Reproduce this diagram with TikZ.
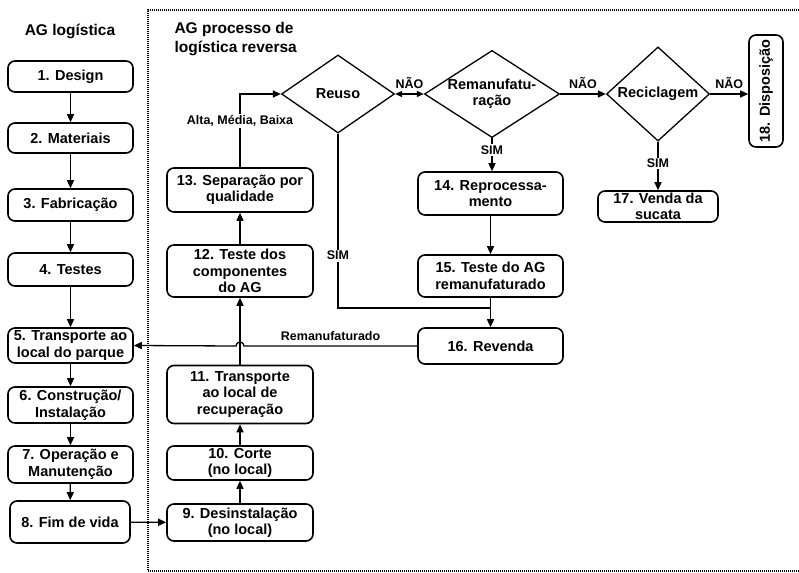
\documentclass[tikz,border=0pt]{standalone}
\usepackage{fontspec}
\setmainfont{Liberation Sans}
\usetikzlibrary{arrows.meta,shapes.geometric}

\newcommand{\boxfont}{\fontsize{14.5}{16.5}\selectfont\bfseries}
\newcommand{\lblfont}{\fontsize{12.5}{14}\selectfont\bfseries}
\newcommand{\ttlfont}{\fontsize{15.5}{19}\selectfont\bfseries}

\tikzset{
  box/.style={draw, line width=1.6pt, rounded corners=7pt, align=center, inner sep=0pt, font=\boxfont},
  dec/.style={draw, shape=diamond, line width=1.3pt, align=center, inner sep=0pt, font=\boxfont},
  arr/.style={line width=1.3pt, -{Triangle[length=8pt,width=7pt]}},
  twoarr/.style={line width=1.3pt, {Triangle[length=7pt,width=6pt]}-{Triangle[length=7pt,width=6pt]}},
  lbl/.style={font=\lblfont, inner sep=1.5pt},
}

\begin{document}
\begin{tikzpicture}[x=1pt,y=-1pt]
  \useasboundingbox (0,0) rectangle (799,572);
  % frame of the reverse process
  \draw [line width=1.5pt, dash pattern=on 1pt off 1pt] (799,10) -- (148,10) -- (148,571) -- (799,571);

  \node [font=\ttlfont] (ttl1) at (70,31) {AG logística};
  \node [font=\ttlfont, anchor=west, align=left] (ttl2) at (171,39) {AG processo de\\logística reversa};

  % forward chain
  \node [box, minimum width=125pt, minimum height=31pt] (d1) at (70.5,76.5) {1. Design};
  \node [box, minimum width=125pt, minimum height=30pt] (d2) at (70.5,138) {2. Materiais};
  \node [box, minimum width=125pt, minimum height=32pt] (d3) at (70.5,205) {3. Fabricação};
  \node [box, minimum width=125pt, minimum height=33pt] (d4) at (70.5,269.5) {4. Testes};
  \node [box, minimum width=125pt, minimum height=35pt] (d5) at (70.5,345.5) {5. Transporte ao\\local do parque};
  \node [box, minimum width=125pt, minimum height=36pt] (d6) at (70.5,405) {6. Construção/\\Instalação};
  \node [box, minimum width=125pt, minimum height=37pt] (d7) at (70.5,464.5) {7. Operação e\\Manutenção};
  \node [box, minimum width=120pt, minimum height=42pt] (d8) at (70,522) {8. Fim de vida};

  % reverse chain
  \node [box, minimum width=146pt, minimum height=37pt] (r9) at (240,522.5) {9. Desinstalação\\(no local)};
  \node [box, minimum width=146pt, minimum height=34pt] (r10) at (240,463) {10. Corte\\(no local)};
  \node [box, minimum width=146pt, minimum height=58pt] (r11) at (240,394.5) {11. Transporte\\ao local de\\recuperação};
  \node [box, minimum width=146pt, minimum height=52pt] (r12) at (240,271) {12. Teste dos\\componentes\\do AG};
  \node [box, minimum width=146pt, minimum height=44pt] (r13) at (240,190) {13. Separação por\\qualidade};

  \node [dec, minimum width=113pt, minimum height=78pt] (reuso) at (338,94) {Reuso};
  \node [dec, minimum width=133pt, minimum height=86pt, aspect=1.55] (reman) at (492,94) {Remanufatu-\\ração};
  \node [dec, minimum width=103pt, minimum height=78pt] (recic) at (658,94) {Reciclagem};
  \node [box, rotate=90, minimum width=112pt, minimum height=34pt] (r18) at (766,91) {18. Disposição};

  \node [box, minimum width=145pt, minimum height=43pt] (r14) at (490.5,193.5) {14. Reprocessa-\\mento};
  \node [box, minimum width=145pt, minimum height=42pt] (r15) at (490.5,276) {15. Teste do AG\\remanufaturado};
  \node [box, minimum width=145pt, minimum height=36pt] (r16) at (490.5,346) {16. Revenda};
  \node [box, minimum width=120pt, minimum height=31pt] (r17) at (658,206.5) {17. Venda da\\sucata};

  \coordinate (join) at (490.5,308);

  % arrows
  \foreach \a/\b in {d1/d2,d2/d3,d3/d4,d4/d5,d5/d6,d6/d7,d7/d8,d8/r9,r9/r10,r10/r11,r11/r12,r12/r13,r14/r15,r15/r16}
    \draw [arr] (\a) -- (\b);
  \draw [arr] (r13.north) -- node [lbl, fill=white, pos=0.63] {Alta, Média, Baixa} (r13.north |- reuso.west) -- (reuso.west);
  \draw [twoarr] (reuso.east) -- node [lbl, above=3pt] {NÃO} (reman.west);
  \draw [arr] (reman.east) -- node [lbl, above=3pt] {NÃO} (recic.west);
  \draw [arr] (recic.east) -- node [lbl, above=3pt] {NÃO} (recic.east -| r18.north);
  \draw [arr] (reman.south) -- node [lbl, fill=white, pos=0.35] {SIM} (reman.south |- r14.north);
  \draw [arr] (recic.south) -- node [lbl, fill=white, pos=0.45] {SIM} (recic.south |- r17.north);
  \draw [line width=1.3pt] (reuso.south) -- node [lbl, fill=white, pos=0.7] {SIM} (reuso.south |- join) -- (join);
  \draw [arr] (r16.west) -- node [lbl, above=3pt] {Remanufaturado} ([xshift=4pt]r11.north |- r16.west)
    arc [start angle=0, end angle=180, radius=4pt] -- (d5.east);
\end{tikzpicture}
\end{document}
